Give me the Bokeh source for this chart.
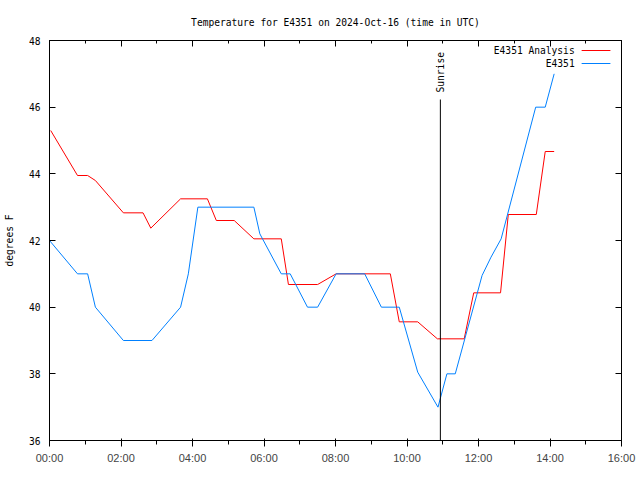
import math
from bokeh.plotting import figure
from bokeh.models import Range1d, FixedTicker, LinearAxis, Label
from bokeh.embed import file_html
from bokeh.resources import INLINE

# ---- data ----
analysis_times = ["00:02", "00:47", "01:04", "01:17", "02:04", "02:37", "02:50", "03:40",
                  "04:25", "04:40", "05:10", "05:43", "06:29", "06:41", "07:30", "08:01",
                  "09:32", "09:47", "10:18", "10:51", "11:36", "11:52", "12:37", "12:50",
                  "13:37", "13:52", "14:07"]
analysis_temps = [45.3, 43.95, 43.95, 43.8, 42.83, 42.83, 42.37, 43.25,
                  43.25, 42.6, 42.6, 42.05, 42.05, 40.68, 40.68, 41.0,
                  41.0, 39.56, 39.56, 39.05, 39.05, 40.43, 40.43, 42.78,
                  42.78, 44.67, 44.67]

obs_times = ["00:00", "00:47", "01:04", "01:17", "02:04", "02:52", "03:40", "03:53",
             "04:09", "05:43", "05:53", "06:29", "06:44", "07:13", "07:30", "08:01",
             "08:49", "09:17", "09:47", "10:18", "10:52", "11:07", "11:21", "12:06",
             "12:21", "12:38", "13:36", "13:52", "14:07"]
obs_temps = [42.0, 41.0, 41.0, 40.0, 39.0, 39.0, 40.0, 41.0,
             43.0, 43.0, 42.2, 41.0, 41.0, 40.0, 40.0, 41.0,
             41.0, 40.0, 40.0, 38.05, 37.0, 38.0, 38.0, 40.95,
             41.5, 42.05, 46.0, 46.0, 47.0]

sunrise_time = "10:56"

x_tick_labels = ["00:00", "02:00", "04:00", "06:00", "08:00", "10:00", "12:00", "14:00", "16:00"]
x_minor_labels = ["01:00", "03:00", "05:00", "07:00", "09:00", "11:00", "13:00", "15:00"]
y_ticks = [36, 38, 40, 42, 44, 46, 48]

title_text = "Temperature for E4351 on 2024-Oct-16 (time in UTC)"
y_label_text = "degrees F"
series_names = ["E4351 Analysis", "E4351"]
series_colors = ["#ff0000", "#0080ff"]


def hrs(s):
    h, m = s.split(":")
    return int(h) + int(m) / 60.0


FONT = "DejaVu Sans Mono"
FS = "9.6px"

xa = [hrs(t) for t in analysis_times]
xo = [hrs(t) for t in obs_times]
sunrise = hrs(sunrise_time)

p = figure(width=640, height=480, output_backend="svg", toolbar_location=None,
           x_range=Range1d(0, 16), y_range=Range1d(36, 48),
           min_border_left=47, min_border_right=19, min_border_top=40, min_border_bottom=40)

p.xgrid.visible = False
p.ygrid.visible = False
p.outline_line_color = "black"
p.outline_line_width = 1
p.outline_line_alpha = 1.0
p.background_fill_color = "white"
p.border_fill_color = "white"

p.title.text = title_text
p.title.align = "center"
p.title.text_font = FONT
p.title.text_font_size = FS
p.title.text_font_style = "normal"
p.title.text_color = "black"
p.title.standoff = 25

major_x = [int(round(hrs(t))) for t in x_tick_labels]
minor_x = [int(round(hrs(t))) for t in x_minor_labels]
xticker = FixedTicker(ticks=major_x, minor_ticks=minor_x)
yticker = FixedTicker(ticks=y_ticks, minor_ticks=[])

p.xaxis[0].ticker = xticker
p.xaxis[0].major_label_overrides = {v: lab for v, lab in zip(major_x, x_tick_labels)}
p.yaxis[0].ticker = yticker

top = LinearAxis(ticker=xticker)
right = LinearAxis(ticker=yticker)
top.major_label_overrides = {v: "" for v in major_x}
right.major_label_overrides = {v: "" for v in y_ticks}
p.add_layout(top, "above")
p.add_layout(right, "right")

for ax in [p.xaxis[0], p.yaxis[0], top, right]:
    ax.major_tick_in = 6
    ax.major_tick_out = 0
    ax.minor_tick_in = 3
    ax.minor_tick_out = 0
    ax.axis_line_color = "black"
    ax.major_tick_line_color = "black"
    ax.minor_tick_line_color = "black"
    ax.major_label_text_font = FONT
    ax.major_label_text_font_size = FS
    ax.major_label_text_color = "black"

p.xaxis[0].major_label_standoff = 0
p.yaxis[0].major_label_standoff = 9
p.yaxis[0].axis_label = y_label_text
p.yaxis[0].axis_label_text_font = FONT
p.yaxis[0].axis_label_text_font_size = FS
p.yaxis[0].axis_label_text_font_style = "normal"
p.yaxis[0].axis_label_text_color = "black"
p.yaxis[0].axis_label_standoff = 11
for ax in [top, right]:
    ax.major_label_standoff = 0

# series
p.line(xa, analysis_temps, line_color=series_colors[0], line_width=1)
p.line(xo, obs_temps, line_color=series_colors[1], line_width=1)

# sunrise marker
p.segment(x0=[sunrise], y0=[36], x1=[sunrise], y1=[46.23], line_color="black", line_width=1)
p.add_layout(Label(x=sunrise, y=46.44, text="Sunrise", angle=math.pi / 2,
                   text_align="left", text_baseline="middle",
                   text_font=FONT, text_font_size=FS, text_color="black"))

# legend (gnuplot style: text then line sample)
leg_y = [47.7, 47.31]
for name, col, yy in zip(series_names, series_colors, leg_y):
    p.add_layout(Label(x=14.69, y=yy, text=name, text_align="right", text_baseline="middle",
                       text_font=FONT, text_font_size=FS, text_color="black"))
    p.segment(x0=[14.885], y0=[yy], x1=[15.69], y1=[yy], line_color=col, line_width=1)

open("out.html", "w").write(file_html(p, INLINE))
